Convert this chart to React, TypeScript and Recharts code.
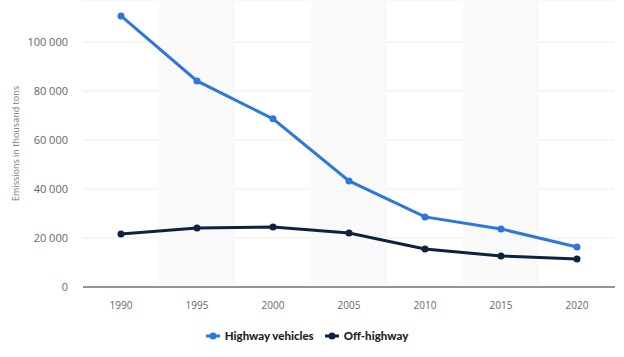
import React from 'react';
import { LineChart, Line, XAxis, YAxis, CartesianGrid, ReferenceArea, Legend } from 'recharts';

const years = [1990, 1995, 2000, 2005, 2010, 2015, 2020];
const highway = [110600, 84100, 68600, 43300, 28600, 23700, 16300];
const offHighway = [21600, 24100, 24500, 22000, 15500, 12650, 11400];
const yTicks = [0, 20000, 40000, 60000, 80000, 100000];
const shadedYears = [1995, 2005, 2015];

const data = years.map((y, i) => ({ year: y, highway: highway[i], off: offHighway[i] }));

const HIGHWAY_COLOR = '#2c77dc';
const OFF_COLOR = '#0c2240';

const fmt = (v: number) => (v === 0 ? '0' : v.toLocaleString('en-US').replace(/,/g, ' '));

const LegendContent = () => {
  const items = [
    { label: 'Highway vehicles', color: HIGHWAY_COLOR },
    { label: 'Off-highway', color: OFF_COLOR },
  ];
  return (
    <div style={{ display: 'flex', justifyContent: 'center', gap: 10, fontFamily: 'Lato, "Open Sans", sans-serif', fontSize: 11.5, fontWeight: 900, color: '#222', paddingRight: 2 }}>
      {items.map((it) => (
        <div key={it.label} style={{ display: 'flex', alignItems: 'center' }}>
          <svg width={16} height={8} style={{ marginRight: 4 }}>
            <line x1={1} y1={4} x2={15} y2={4} stroke={it.color} strokeWidth={3} />
            <circle cx={8} cy={4} r={3.5} fill={it.color} />
          </svg>
          <span>{it.label}</span>
        </div>
      ))}
    </div>
  );
};

export default function App() {
  return (
    <div style={{ position: 'absolute', left: 0, top: 0, background: '#fff' }}>
      <LineChart width={624} height={357} data={data} margin={{ top: 0, right: 9, bottom: 8, left: 0 }}>
        {shadedYears.map((y) => (
          <ReferenceArea key={y} x1={y - 2.5} x2={y + 2.5} y1={0} y2={117100} fill="#f9f9f9" fillOpacity={1} stroke="none" ifOverflow="visible" />
        ))}
        <CartesianGrid vertical={false} stroke="#dcdcdc" strokeDasharray="1 1" />
        <XAxis
          dataKey="year"
          type="number"
          domain={[1987.5, 2022.5]}
          ticks={years}
          tickLine={false}
          axisLine={{ stroke: '#333', strokeWidth: 1 }}
          tick={{ fill: '#666', fontSize: 10, fontFamily: '"Open Sans", sans-serif' }}
          tickMargin={9}
          height={30}
        />
        <YAxis
          domain={[0, 117100]}
          ticks={yTicks}
          tickFormatter={fmt}
          axisLine={false}
          tickLine={false}
          width={83}
          tick={{ fill: '#666', fontSize: 11, fontFamily: '"Open Sans", sans-serif', dx: -7 }}
          label={{ value: 'Emissions in thousand tons', angle: -90, position: 'insideLeft', offset: 16, fill: '#777', fontSize: 9, fontFamily: '"Open Sans", sans-serif', style: { textAnchor: 'middle' } }}
        />
        <Legend content={<LegendContent />} verticalAlign="bottom" height={32} wrapperStyle={{ top: 329, bottom: 'auto' }} />
        <Line dataKey="highway" stroke={HIGHWAY_COLOR} strokeWidth={3} dot={{ r: 3.5, fill: HIGHWAY_COLOR, stroke: HIGHWAY_COLOR, strokeWidth: 0 }} isAnimationActive={false} />
        <Line dataKey="off" stroke={OFF_COLOR} strokeWidth={3} dot={{ r: 3.5, fill: OFF_COLOR, stroke: OFF_COLOR, strokeWidth: 0 }} isAnimationActive={false} />
      </LineChart>
    </div>
  );
}
